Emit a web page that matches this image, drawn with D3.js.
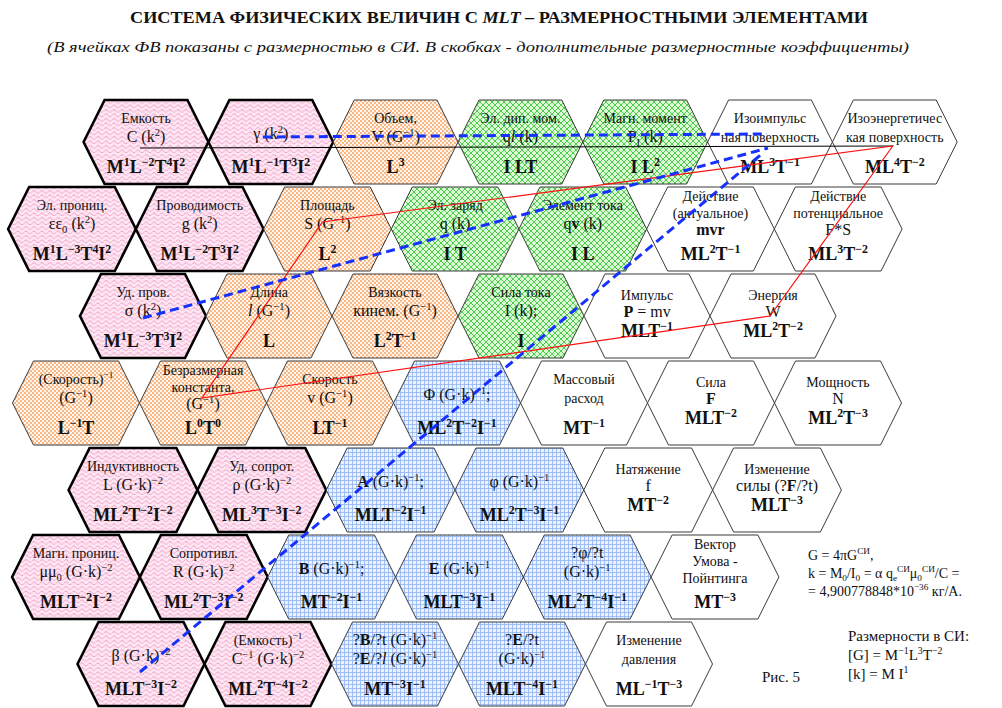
<!DOCTYPE html>
<html>
<head>
<meta charset="utf-8">
<script src="https://cdn.jsdelivr.net/npm/d3@7"></script>
<style>
  body { margin: 0; background: #fff; }
  svg { display: block; }
  text { font-family: "Liberation Serif", "Times New Roman", serif; fill: #111; white-space: pre; }
</style>
</head>
<body>
<div id="chart"></div>
<script>
// --- data: one entry per hexagon, row by row ---
// markup: ^{..} superscript, _{..} subscript, # toggles bold, ~ toggles italic
var names = [
  [["Емкость"], [], ["Объем,"], ["Эл. дип. мом."], ["Магн. момент"], ["Изоимпульс", "ная поверхность"], ["Изоэнергетичес", "кая поверхность"]],
  [["Эл. прониц."], ["Проводимость"], ["Площадь"], ["Эл. заряд"], ["Элемент тока"], ["Действие", "(актуальное)"], ["Действие", "потенциальное"]],
  [["Уд. пров."], ["Длина"], ["Вязкость"], ["Сила тока"], ["Импульс"], ["Энергия"]],
  [["(Скорость)^{−1}"], ["Безразмерная", "константа,"], ["Скорость"], [], ["Массовый", "расход"], ["Сила"], ["Мощность"]],
  [["Индуктивность"], ["Уд. сопрот."], [], [], ["Натяжение"], ["Изменение"]],
  [["Магн. прониц."], ["Сопротивл."], [], [], [], ["Вектор", "Умова -", "Пойнтинга"]],
  [[], ["(Емкость)^{−1}"], [], [], ["Изменение", "давления"]]
];

var symbols = [
  [["C (k^{2})"], ["γ (k^{2})"], ["V (G^{−1})"], ["q~l~ (k)"], ["P_{I} (k)"], [], []],
  [["εε_{0} (k^{2})"], ["g (k^{2})"], ["S (G^{−1})"], ["q (k)"], ["q#v# (k)"], ["#mvr#"], ["F*S"]],
  [["σ (k^{2})"], ["~l~ (G^{−1})"], ["кинем. (G^{−1})"], ["I (k);"], ["#P# = mv"], ["W"]],
  [["(G^{−1})"], ["(G^{−1})"], ["v (G^{−1})"], ["Φ (G·k)^{−1};"], [], ["#F#"], ["N"]],
  [["L (G·k)^{−2}"], ["ρ (G·k)^{−2}"], ["#A# (G·k)^{−1};"], ["φ (G·k)^{−1}"], ["f"], ["силы (?#F#/?t)"]],
  [["μμ_{0} (G·k)^{−2}"], ["R (G·k)^{−2}"], ["#B# (G·k)^{−1};"], ["#E# (G·k)^{−1}"], ["?φ/?t", "(G·k)^{−1}"], []],
  [["β (G·k)^{−2}"], ["C^{−1} (G·k)^{−2}"], ["?#B#/?t (G·k)^{−1}", "?#E#/?~l~ (G·k)^{−1}"], ["?#E#/?t", "(G·k)^{−1}"], []]
];

var dims = [
  ["M^{1}L^{−2}T^{4}I^{2}", "M^{1}L^{−1}T^{3}I^{2}", "L^{3}", "I LT", "I L^{2}", "ML^{3}T^{−1}", "ML^{4}T^{−2}"],
  ["M^{1}L^{−3}T^{4}I^{2}", "M^{1}L^{−2}T^{3}I^{2}", "L^{2}", "I T", "I L", "ML^{2}T^{−1}", "ML^{3}T^{−2}"],
  ["M^{1}L^{−3}T^{3}I^{2}", "L", "L^{2}T^{−1}", "I", "MLT^{−1}", "ML^{2}T^{−2}"],
  ["L^{−1}T", "L^{0}T^{0}", "LT^{−1}", "ML^{2}T^{−2}I^{−1}", "MT^{−1}", "MLT^{−2}", "ML^{2}T^{−3}"],
  ["ML^{2}T^{−2}I^{−2}", "ML^{3}T^{−3}I^{−2}", "MLT^{−2}I^{−1}", "ML^{2}T^{−3}I^{−1}", "MT^{−2}", "MLT^{−3}"],
  ["MLT^{−2}I^{−2}", "ML^{2}T^{−3}I^{−2}", "MT^{−2}I^{−1}", "MLT^{−3}I^{−1}", "ML^{2}T^{−4}I^{−1}", "MT^{−3}"],
  ["MLT^{−3}I^{−2}", "ML^{2}T^{−4}I^{−2}", "MT^{−3}I^{−1}", "MLT^{−4}I^{−1}", "ML^{−1}T^{−3}"]
];

// em = electromagnetic (pink), geo = geometric (orange), chg = charge (green),
// fld = field (blue), mech = mechanical (white)
var groups = [
  ["em", "em", "geo", "chg", "chg", "mech", "mech"],
  ["em", "em", "geo", "chg", "chg", "mech", "mech"],
  ["em", "geo", "geo", "chg", "mech", "mech"],
  ["geo", "geo", "geo", "fld", "mech", "mech", "mech"],
  ["em", "em", "fld", "fld", "mech", "mech"],
  ["em", "em", "fld", "fld", "fld", "mech"],
  ["em", "em", "fld", "fld", "mech"]
];

// connections between cells, given as [row, col]
var baseLink = [[0, 0], [0, 6]];
var blueLinks = [
  [[0, 1], [0, 5]],
  [[2, 0], [0, 5]],
  [[6, 0], [0, 5]]
];
var redLoop = [[0, 6], [2, 5], [3, 1], [1, 2]];

var title = "СИСТЕМА ФИЗИЧЕСКИХ ВЕЛИЧИН С ~MLT~ – РАЗМЕРНОСТНЫМИ ЭЛЕМЕНТАМИ";
var subtitle = "~(В ячейках ФВ показаны с размерностью в СИ. В скобках - дополнительные размерностные коэффициенты)~";
var noteLines = ["G = 4πG^{СИ},", "k = M_{0}/I_{0} = α q_{e}^{СИ}μ_{0}^{СИ}/C =", "= 4,900778848*10^{−36} кг/А."];
var siLines = ["Размерности в СИ:", "[G] = M^{−1}L^{3}T^{−2}", "[k] = M I^{1}"];
var figLabel = "Рис. 5";

// --- layout ---
var W = 1002, H = 708;
var rowX0 = [146, 72, 143, 76, 133, 76, 141];
var rowPitch = [124.8, 127.7, 126, 127, 128.8, 127.8, 127];
var y = d3.scaleLinear().domain([0, 1]).range([142, 229]);
var xs = rowX0.map(function(x0, r) {
  return d3.scaleLinear().domain([0, 1]).range([x0, x0 + rowPitch[r]]);
});
var halfH = 42, inset = 21;
var compact = ["2,4", "2,5", "3,5", "3,6", "4,4", "4,5"];

function center(rc) { return [xs[rc[0]](rc[1]), y(rc[0])]; }

var svg = d3.select("#chart").append("svg")
    .attr("width", W).attr("height", H);

// --- fill patterns ---
var defs = svg.append("defs");
var pink = defs.append("pattern").attr("id", "p-em").attr("patternUnits", "userSpaceOnUse")
    .attr("width", 8).attr("height", 4.5);
pink.append("rect").attr("width", 8).attr("height", 4.5).attr("fill", "#fde6f2");
pink.append("path").attr("d", "M0,3 Q2,0 4,3 T8,3").attr("fill", "none")
    .attr("stroke", "#ee8fc0").attr("stroke-width", 0.85);

var orange = defs.append("pattern").attr("id", "p-geo").attr("patternUnits", "userSpaceOnUse")
    .attr("width", 4).attr("height", 4);
orange.append("rect").attr("width", 4).attr("height", 4).attr("fill", "#fff6ee");
orange.append("circle").attr("cx", 1).attr("cy", 1).attr("r", 0.9).attr("fill", "#f59a55");
orange.append("circle").attr("cx", 3).attr("cy", 3).attr("r", 0.9).attr("fill", "#f59a55");

var green = defs.append("pattern").attr("id", "p-chg").attr("patternUnits", "userSpaceOnUse")
    .attr("width", 6).attr("height", 6);
green.append("rect").attr("width", 6).attr("height", 6).attr("fill", "#dcfad6");
green.append("path").attr("d", "M0,0 L6,6 M6,0 L0,6").attr("stroke", "#33c433").attr("stroke-width", 0.85);

var blue = defs.append("pattern").attr("id", "p-fld").attr("patternUnits", "userSpaceOnUse")
    .attr("width", 4).attr("height", 4);
blue.append("rect").attr("width", 4).attr("height", 4).attr("fill", "#eaf2ff");
blue.append("path").attr("d", "M0,0.5 H4 M0.5,0 V4").attr("stroke", "#8fb4f2").attr("stroke-width", 0.8);

var fillFor = { em: "url(#p-em)", geo: "url(#p-geo)", chg: "url(#p-chg)", fld: "url(#p-fld)", mech: "#fff" };

// --- rich text helper ---
function parse(str, bold) {
  var segs = [], buf = "", italic = false, i = 0;
  function flush(pos) { if (buf) segs.push({ text: buf, bold: bold, italic: italic, pos: pos || 0 }); buf = ""; }
  while (i < str.length) {
    var c = str[i];
    if ((c === "^" || c === "_") && str[i + 1] === "{") {
      flush(0);
      var end = str.indexOf("}", i);
      buf = str.slice(i + 2, end);
      flush(c === "^" ? 1 : -1);
      i = end + 1;
    } else if (c === "#") { flush(0); bold = !bold; i++; }
    else if (c === "~") { flush(0); italic = !italic; i++; }
    else { buf += c; i++; }
  }
  flush(0);
  return segs;
}

function richText(g, str, x, yy, size, bold, anchor) {
  var t = g.append("text").attr("x", x).attr("y", yy)
      .attr("text-anchor", anchor || "middle").style("font-size", size + "px");
  var cur = 0;
  parse(str, !!bold).forEach(function(s) {
    var off = s.pos === 1 ? -size * 0.4 : s.pos === -1 ? size * 0.22 : 0;
    t.append("tspan")
        .attr("dy", (off - cur).toFixed(2))
        .style("font-size", (s.pos ? size * 0.66 : size) + "px")
        .style("font-weight", s.bold ? "bold" : "normal")
        .style("font-style", s.italic ? "italic" : "normal")
        .text(s.text);
    cur = off;
  });
  return t;
}

// --- title ---
richText(svg, title, 499, 23, 16, true).attr("textLength", 738).attr("lengthAdjust", "spacingAndGlyphs");
richText(svg, subtitle, 478, 52, 15, false)
    .attr("textLength", 862).attr("lengthAdjust", "spacingAndGlyphs");

// --- hexagons ---
var cells = [];
names.forEach(function(row, r) {
  row.forEach(function(n, c) {
    cells.push({ r: r, c: c, names: n, syms: symbols[r][c], dim: dims[r][c], group: groups[r][c] });
  });
});

var hexG = svg.append("g");
cells.forEach(function(d) {
  var cx = xs[d.r](d.c), cy = y(d.r), hw = rowPitch[d.r] / 2;
  var pts = [[cx - hw, cy], [cx - hw + inset, cy - halfH], [cx + hw - inset, cy - halfH],
             [cx + hw, cy], [cx + hw - inset, cy + halfH], [cx - hw + inset, cy + halfH]];
  hexG.append("path")
      .attr("d", d3.line()(pts) + "Z")
      .attr("fill", fillFor[d.group])
      .attr("stroke", d.group === "em" ? "#000" : "#3a3a3a")
      .attr("stroke-width", d.group === "em" ? 2.6 : 1)
      .attr("stroke-linejoin", "miter");
});

// --- cell texts ---
var textG = svg.append("g");
cells.forEach(function(d) {
  var cx = xs[d.r](d.c), cy = y(d.r);
  var lines = d.names.map(function(s) { return { s: s, size: 14 }; })
      .concat(d.syms.map(function(s) { return { s: s, size: 16 }; }));
  var n = lines.length, isCompact = compact.indexOf(d.r + "," + d.c) >= 0;
  var gap = n >= 3 ? 17 : 19, last, dimY;
  if (isCompact) { gap = 17; last = cy + 1; dimY = cy + 21; }
  else { last = n === 1 ? cy - 3 : (n === 2 ? cy : cy + 6); dimY = cy + 31; }
  lines.forEach(function(l, i) {
    richText(textG, l.s, cx, last - (n - 1 - i) * gap, l.size, false);
  });
  richText(textG, d.dim, cx, dimY, 18, true);
});

// --- notes on the right ---
noteLines.forEach(function(s, i) { richText(svg, s, 808, 560 + i * 18, 14, false, "start"); });
siLines.forEach(function(s, i) { richText(svg, s, 848, 641 + i * 19, 15, false, "start"); });
richText(svg, figLabel, 762, 682, 15, false, "start");

// --- connecting lines ---
var lineG = svg.append("g").attr("fill", "none");
var baseNudge = [[-6, 6], [-2, 4]];
lineG.append("path")
    .attr("d", d3.line()(baseLink.map(function(rc, i) {
      var p = center(rc); return [p[0] + baseNudge[i][0], p[1] + baseNudge[i][1]];
    })))
    .attr("stroke", "#000").attr("stroke-width", 1);

var redNudge = [[-2, 4], [-3, 0], [-1, -5], [-5, -7]];
lineG.append("path")
    .attr("d", d3.line()(redLoop.map(function(rc, i) {
      var p = center(rc); return [p[0] + redNudge[i][0], p[1] + redNudge[i][1]];
    })) + "Z")
    .attr("stroke", "#ff1010").attr("stroke-width", 1.2);

var blueNudge = [[[-8, -5], [-3, -8]], [[0, 2], [-2, 6]], [[-1, 8], [-7, 11]]];
blueLinks.forEach(function(link, k) {
  lineG.append("path")
      .attr("d", d3.line()(link.map(function(rc, i) {
        var p = center(rc); return [p[0] + blueNudge[k][i][0], p[1] + blueNudge[k][i][1]];
      })))
      .attr("stroke", "#1530ff").attr("stroke-width", 3)
      .attr("stroke-dasharray", "9,5");
});
</script>
</body>
</html>
